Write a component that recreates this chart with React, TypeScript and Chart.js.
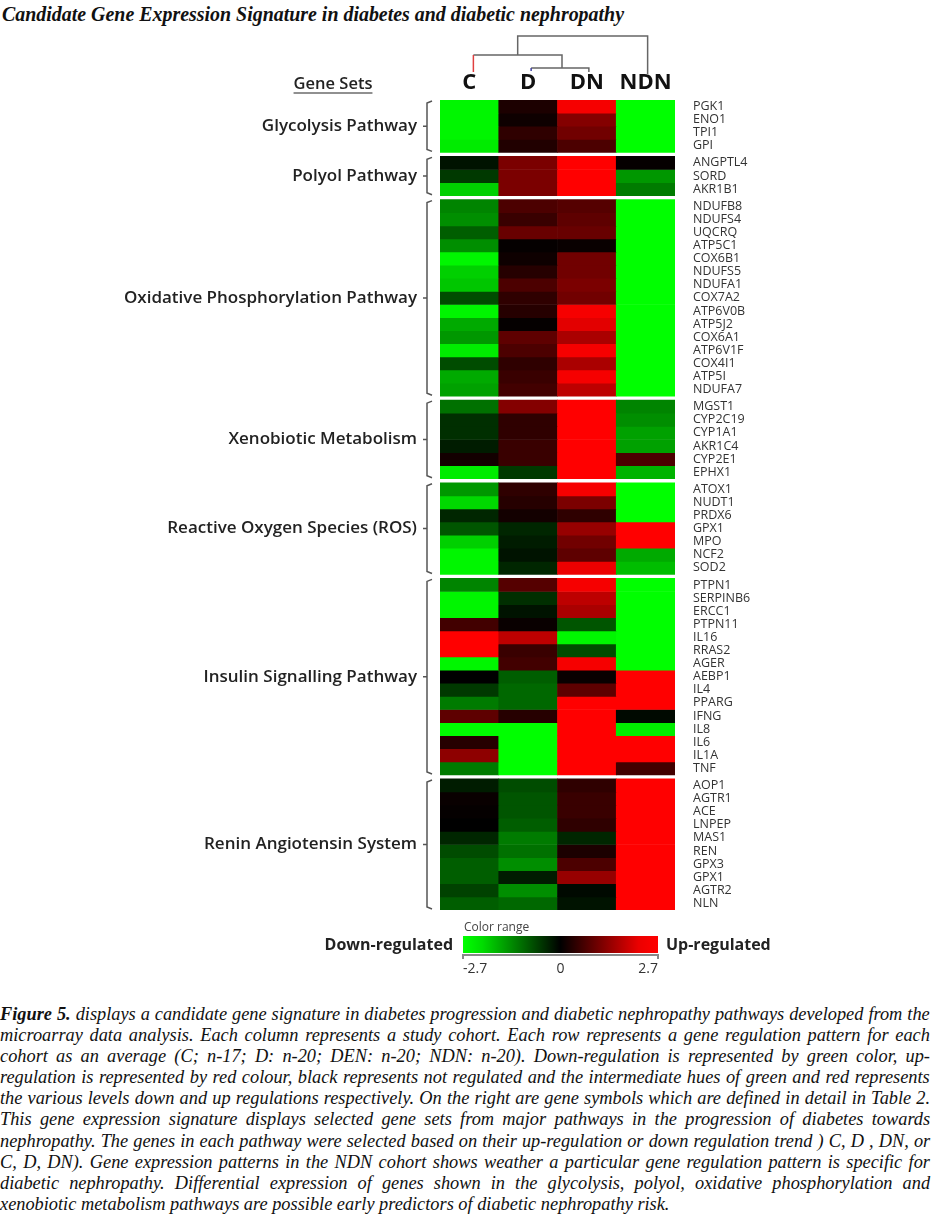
import React, { useEffect, useLayoutEffect, useRef } from "react";
import { Chart, registerables } from "chart.js";

Chart.register(...registerables);

// ---------- DATA ----------
const cohorts = ["C", "D", "DN", "NDN"];

const groupLabels = [
  "Glycolysis Pathway",
  "Polyol Pathway",
  "Oxidative Phosphorylation Pathway",
  "Xenobiotic Metabolism",
  "Reactive Oxygen Species (ROS)",
  "Insulin Signalling Pathway",
  "Renin Angiotensin System",
];

const glycolysisGenes = ["PGK1", "ENO1", "TPI1", "GPI"];
const polyolGenes = ["ANGPTL4", "SORD", "AKR1B1"];
const oxphosGenes = [
  "NDUFB8", "NDUFS4", "UQCRQ", "ATP5C1", "COX6B1", "NDUFS5", "NDUFA1", "COX7A2",
  "ATP6V0B", "ATP5J2", "COX6A1", "ATP6V1F", "COX4I1", "ATP5I", "NDUFA7",
];
const xenobioticGenes = ["MGST1", "CYP2C19", "CYP1A1", "AKR1C4", "CYP2E1", "EPHX1"];
const rosGenes = ["ATOX1", "NUDT1", "PRDX6", "GPX1", "MPO", "NCF2", "SOD2"];
const insulinGenes = [
  "PTPN1", "SERPINB6", "ERCC1", "PTPN11", "IL16", "RRAS2", "AGER", "AEBP1",
  "IL4", "PPARG", "IFNG", "IL8", "IL6", "IL1A", "TNF",
];
const reninGenes = ["AOP1", "AGTR1", "ACE", "LNPEP", "MAS1", "REN", "GPX3", "GPX1", "AGTR2", "NLN"];

const geneGroups = [glycolysisGenes, polyolGenes, oxphosGenes, xenobioticGenes, rosGenes, insulinGenes, reninGenes];

// expression values (log ratio), in gene order
const valuesC = [
  -2.6, -2.6, -2.6, -2.5,
  -0.2, -0.6, -2.2,
  -1.4, -1.5, -1.0, -1.5, -2.6, -2.2, -2.1, -0.8, -2.6, -1.8, -1.6, -2.5, -0.8, -1.8, -1.7,
  -1.2, -0.5, -0.5, -0.3, 0.2, -2.5,
  -1.6, -2.3, -0.4, -0.9, -2.2, -2.6, -2.6,
  -1.4, -2.6, -2.6, 0.7, 2.7, 2.7, -2.6, 0.0, -0.6, -1.3, 1.0, -2.7, 0.4, 1.5, -1.3,
  -0.3, 0.1, 0.05, 0.0, -0.4, -0.8, -1.0, -1.0, -0.7, -1.0,
];
const valuesD = [
  0.3, 0.15, 0.5, 0.35,
  1.3, 1.3, 1.3,
  0.8, 0.6, 1.1, 0.05, 0.15, 0.4, 0.8, 0.5, 0.4, 0.05, 1.0, 0.8, 0.5, 0.6, 0.7,
  1.4, 0.5, 0.5, 0.6, 0.6, -0.6,
  0.5, 0.4, 0.2, -0.4, -0.3, -0.2, -0.4,
  0.9, -0.5, -0.2, 0.1, 2.0, 0.6, 0.7, -1.0, -1.1, -1.1, 0.4, -2.7, -2.7, -2.7, -2.7,
  -0.8, -0.9, -0.9, -1.0, -1.3, -1.2, -1.5, -0.3, -1.5, -1.1,
];
const valuesDN = [
  2.6, 1.4, 1.2, 0.8,
  2.7, 2.7, 2.7,
  0.9, 1.0, 1.1, 0.1, 1.2, 1.2, 1.3, 1.2, 2.6, 2.4, 1.8, 2.6, 1.8, 2.6, 2.0,
  2.7, 2.7, 2.7, 2.7, 2.7, 2.7,
  2.6, 1.3, 0.5, 1.6, 1.2, 1.0, 2.5,
  2.6, 2.0, 1.8, -0.9, -2.6, -0.8, 2.6, 0.1, 1.0, 2.7, 2.7, 2.7, 2.7, 2.7, 2.7,
  0.5, 0.6, 0.6, 0.5, -0.4, 0.3, 0.8, 1.6, -0.1, -0.2,
];
const valuesNDN = [
  -2.7, -2.7, -2.7, -2.7,
  0.05, -1.6, -1.3,
  -2.7, -2.7, -2.7, -2.7, -2.7, -2.7, -2.7, -2.7, -2.7, -2.7, -2.7, -2.7, -2.7, -2.7, -2.7,
  -1.4, -1.5, -1.7, -1.7, 0.8, -1.9,
  -2.7, -2.7, -2.7, 2.7, 2.7, -1.8, -2.0,
  -2.7, -2.7, -2.7, -2.7, -2.7, -2.7, -2.7, 2.7, 2.7, 2.7, -0.1, -2.5, 2.7, 2.7, 0.7,
  2.7, 2.7, 2.7, 2.7, 2.7, 2.7, 2.7, 2.7, 2.7, 2.7,
];
const cohortValues = [valuesC, valuesD, valuesDN, valuesNDN];

const colorRangeMin = -2.7;
const colorRangeMax = 2.7;
const colorRangeTicks = [-2.7, 0, 2.7];

const titleText = "Candidate Gene Expression Signature in diabetes and diabetic nephropathy";
const captionLead = "Figure 5.";
const captionLines = [
  "displays a candidate gene signature in diabetes progression and diabetic nephropathy pathways developed from the",
  "microarray data analysis. Each column represents a study cohort. Each row represents a gene regulation pattern for each",
  "cohort as an average (C; n-17; D: n-20; DEN: n-20; NDN: n-20). Down-regulation is represented by green color, up-",
  "regulation is represented by red colour, black represents not regulated and the intermediate hues of green and red represents",
  "the various levels down and up regulations respectively. On the right are gene symbols which are defined in detail in Table 2.",
  "This gene expression signature displays selected gene sets from major pathways in the progression of diabetes towards",
  "nephropathy. The genes in each pathway were selected based on their up-regulation or down regulation trend ) C, D , DN, or",
  "C, D, DN). Gene expression patterns in the NDN cohort shows weather a particular gene regulation pattern is specific for",
  "diabetic nephropathy. Differential expression of genes shown in the glycolysis, polyol, oxidative phosphorylation and",
  "xenobiotic metabolism pathways are possible early predictors of diabetic nephropathy risk.",
];

// ---------- HELPERS ----------
const GROUP_GAP = 0.3;

function heatColor(v: number): string {
  const t = Math.max(-1, Math.min(1, v / colorRangeMax));
  if (t < 0) return `rgb(0, ${Math.round(-t * 255)}, 0)`;
  return `rgb(${Math.round(t * 255)}, 0, 0)`;
}

type Row = { name: string; start: number; index: number };
type GroupSpan = { label: string; start: number; end: number };

function buildLayout() {
  const rows: Row[] = [];
  const spans: GroupSpan[] = [];
  let pos = 0;
  let idx = 0;
  geneGroups.forEach((genes, g) => {
    const gStart = pos;
    genes.forEach((name) => {
      rows.push({ name, start: pos, index: idx });
      pos += 1;
      idx += 1;
    });
    spans.push({ label: groupLabels[g], start: gStart, end: pos });
    if (g < geneGroups.length - 1) pos += GROUP_GAP;
  });
  return { rows, spans, total: pos };
}

const decorPlugin = {
  id: "decor",
  afterDraw(chart: any, _args: any, opts: any) {
    const { ctx, chartArea, scales } = chart;
    const x = scales.x;
    const y = scales.y;
    const spans: GroupSpan[] = opts.spans;
    ctx.save();

    // group brackets and labels
    const bx = chartArea.left - 13;
    ctx.strokeStyle = "#555";
    ctx.lineWidth = 1.5;
    spans.forEach((s) => {
      const y0 = y.getPixelForValue(s.start) + 1;
      const y1 = y.getPixelForValue(s.end) - 1;
      const ym = (y0 + y1) / 2;
      ctx.beginPath();
      ctx.moveTo(bx + 5, y0);
      ctx.lineTo(bx, y0 + 2);
      ctx.lineTo(bx, y1 - 2);
      ctx.lineTo(bx + 5, y1);
      ctx.moveTo(bx, ym);
      ctx.lineTo(bx - 4, ym);
      ctx.stroke();
      ctx.fillStyle = "#222";
      ctx.font = '600 17px "Open Sans"';
      ctx.textAlign = "right";
      ctx.textBaseline = "middle";
      ctx.fillText(s.label, bx - 10, ym);
    });

    // "Gene Sets" header
    ctx.font = '600 16.5px "Open Sans"';
    ctx.fillStyle = "#222";
    ctx.textAlign = "center";
    ctx.textBaseline = "alphabetic";
    const gsx = chartArea.left - 107;
    const gsy = chartArea.top - 11;
    ctx.fillText("Gene Sets", gsx, gsy);
    const gw = ctx.measureText("Gene Sets").width;
    ctx.beginPath();
    ctx.lineWidth = 1.2;
    ctx.strokeStyle = "#222";
    ctx.moveTo(gsx - gw / 2, gsy + 4);
    ctx.lineTo(gsx + gw / 2, gsy + 4);
    ctx.stroke();

    // dendrogram
    const xc = x.getPixelForValue(0) + 4;
    const xd = x.getPixelForValue(1) + 3;
    const xdn = x.getPixelForValue(2) + 2;
    const xndn = x.getPixelForValue(3) + 2;
    const top = chartArea.top;
    const yTop = top - 64;
    const yMid = top - 45;
    const yLow = top - 32;
    const yLeaf = top - 28;
    const xDDN = (xd + xdn) / 2 + 2;
    const xCDDN = (xc + xDDN) / 2;
    ctx.lineWidth = 1.5;
    ctx.strokeStyle = "#666";
    ctx.beginPath();
    ctx.moveTo(xCDDN, yMid);
    ctx.lineTo(xCDDN, yTop);
    ctx.lineTo(xndn, yTop);
    ctx.lineTo(xndn, yLeaf + 2);
    ctx.moveTo(xc, yMid);
    ctx.lineTo(xDDN, yMid);
    ctx.lineTo(xDDN, yLow);
    ctx.moveTo(xd, yLow);
    ctx.lineTo(xdn, yLow);
    ctx.lineTo(xdn, yLeaf);
    ctx.stroke();
    ctx.strokeStyle = "#e04040";
    ctx.beginPath();
    ctx.moveTo(xc, yMid);
    ctx.lineTo(xc, yLeaf);
    ctx.stroke();
    ctx.strokeStyle = "#4040a0";
    ctx.beginPath();
    ctx.moveTo(xd, yLow);
    ctx.lineTo(xd, yLow + 3);
    ctx.stroke();

    // colour range legend
    const lx0 = chartArea.left + 23;
    const lx1 = chartArea.right - 17;
    const ly0 = chartArea.bottom + 26;
    const ly1 = chartArea.bottom + 43;
    const grad = ctx.createLinearGradient(lx0, 0, lx1, 0);
    grad.addColorStop(0, heatColor(colorRangeMin));
    grad.addColorStop(0.1, "rgb(0,220,0)");
    grad.addColorStop(0.5, "rgb(0,0,0)");
    grad.addColorStop(0.9, "rgb(235,0,0)");
    grad.addColorStop(1, heatColor(colorRangeMax));
    ctx.fillStyle = grad;
    ctx.fillRect(lx0, ly0, lx1 - lx0, ly1 - ly0);
    ctx.strokeStyle = "#888";
    ctx.lineWidth = 2;
    ctx.beginPath();
    ctx.moveTo(lx0, ly1 + 2);
    ctx.lineTo(lx1, ly1 + 2);
    ctx.moveTo(lx0, ly1 + 1);
    ctx.lineTo(lx0, ly1 + 6);
    ctx.moveTo(lx1, ly1 + 1);
    ctx.lineTo(lx1, ly1 + 6);
    ctx.stroke();

    ctx.fillStyle = "#444";
    ctx.font = '12px "Open Sans"';
    ctx.textAlign = "left";
    ctx.textBaseline = "alphabetic";
    ctx.fillText("Color range", lx0 + 1, ly0 - 5);

    ctx.font = '14px "Open Sans"';
    ctx.fillStyle = "#333";
    colorRangeTicks.forEach((t, i) => {
      const px = lx0 + ((t - colorRangeMin) / (colorRangeMax - colorRangeMin)) * (lx1 - lx0);
      ctx.textAlign = i === 0 ? "left" : i === colorRangeTicks.length - 1 ? "right" : "center";
      ctx.fillText(String(t), px, ly1 + 20);
    });

    ctx.font = 'bold 16px "Open Sans"';
    ctx.fillStyle = "#222";
    ctx.textBaseline = "middle";
    ctx.textAlign = "right";
    ctx.fillText("Down-regulated", lx0 - 10, (ly0 + ly1) / 2 + 1);
    ctx.textAlign = "left";
    ctx.fillText("Up-regulated", lx1 + 8, (ly0 + ly1) / 2 + 1);

    ctx.restore();
  },
};

function HeatmapChart() {
  const canvasRef = useRef<HTMLCanvasElement | null>(null);

  useEffect(() => {
    const canvas = canvasRef.current;
    if (!canvas) return;
    const { rows, spans, total } = buildLayout();
    const centers = rows.map((r) => r.start + 0.5);

    const datasets = rows.map((r) => ({
      label: r.name,
      data: cohorts.map(() => [r.start, r.start + 1] as [number, number]),
      backgroundColor: cohortValues.map((vals) => heatColor(vals[r.index])),
      borderWidth: 0,
      grouped: false,
      categoryPercentage: 1,
      barPercentage: 1,
    }));

    const chart = new Chart(canvas, {
      type: "bar",
      data: { labels: cohorts, datasets: datasets as any },
      plugins: [decorPlugin as any],
      options: {
        animation: false,
        responsive: false,
        maintainAspectRatio: false,
        layout: { padding: { left: 440, right: 0, top: 74, bottom: 75 } },
        plugins: {
          legend: { display: false },
          tooltip: { enabled: false },
          title: { display: false },
          decor: { spans },
        } as any,
        scales: {
          x: {
            type: "category",
            position: "top",
            grid: { display: false, drawTicks: false },
            border: { display: false },
            ticks: {
              color: "#111",
              padding: 4,
              font: { family: "Open Sans", size: 22, weight: "bold" },
            },
            afterFit: (s: any) => {
              s.height = 26;
            },
          },
          y: {
            type: "linear",
            position: "right",
            reverse: true,
            min: 0,
            max: total,
            grid: { display: false, drawTicks: false },
            border: { display: false },
            afterFit: (s: any) => {
              s.width = 260;
            },
            afterBuildTicks: (s: any) => {
              s.ticks = centers.map((v) => ({ value: v }));
            },
            ticks: {
              autoSkip: false,
              padding: 18,
              color: "#333",
              font: { family: "Open Sans", size: 12.5 },
              callback: (_v: any, i: number) => rows[i]?.name ?? "",
            },
          },
        } as any,
      },
    });
    return () => chart.destroy();
  }, []);

  return (
    <canvas
      ref={canvasRef}
      width={935}
      height={985}
      style={{ position: "absolute", left: 0, top: 0, width: 935, height: 985 }}
    />
  );
}

function FitText({ children, width, style }: { children: any; width: number; style: any }) {
  const ref = useRef<HTMLSpanElement | null>(null);
  useLayoutEffect(() => {
    const el = ref.current;
    if (!el) return;
    const fit = () => {
      el.style.transform = "none";
      const w = el.getBoundingClientRect().width;
      if (w > 0) el.style.transform = `scaleX(${width / w})`;
    };
    fit();
    (document as any).fonts?.ready?.then(fit);
  }, [width]);
  return (
    <span ref={ref} style={{ display: "inline-block", whiteSpace: "nowrap", transformOrigin: "left top", ...style }}>
      {children}
    </span>
  );
}

const CAPTION_SCALE = 0.94;
const CAPTION_WIDTH = 930;

function CaptionLine({ text, lead, justify }: { text: string; lead?: string; justify: boolean }) {
  const ref = useRef<HTMLSpanElement | null>(null);
  useLayoutEffect(() => {
    const el = ref.current;
    if (!el || !justify) return;
    const fit = () => {
      el.style.wordSpacing = "0px";
      const w = el.offsetWidth;
      const full = (lead ? lead + " " : "") + text;
      const spaces = (full.match(/ /g) || []).length;
      const target = CAPTION_WIDTH / CAPTION_SCALE;
      if (spaces > 0) el.style.wordSpacing = `${(target - w) / spaces}px`;
    };
    fit();
    (document as any).fonts?.ready?.then(fit);
  }, [text, lead, justify]);
  return (
    <div style={{ whiteSpace: "nowrap" }}>
      <span ref={ref} style={{ display: "inline-block", whiteSpace: "pre" }}>
        {lead ? <b>{lead} </b> : null}
        {text}
      </span>
    </div>
  );
}

export default function App() {
  useEffect(() => {
    document.body.style.margin = "0";
    document.body.style.background = "#fff";
  }, []);
  const serif = '"Liberation Serif", "Times New Roman", serif';
  return (
    <div style={{ position: "relative", width: 935, height: 1215, background: "#fff", overflow: "hidden" }}>
      <div style={{ position: "absolute", left: 2, top: 1 }}>
        <FitText width={622} style={{ fontFamily: serif, fontStyle: "italic", fontWeight: "bold", fontSize: 20, lineHeight: "26px", color: "#111" }}>
          {titleText}
        </FitText>
      </div>
      <HeatmapChart />
      <div
        style={{
          position: "absolute",
          left: 0,
          top: 1003,
          width: CAPTION_WIDTH / CAPTION_SCALE,
          transform: `scaleX(${CAPTION_SCALE})`,
          transformOrigin: "left top",
          fontFamily: serif,
          fontStyle: "italic",
          fontSize: 19.5,
          lineHeight: "21.1px",
          color: "#111",
        }}
      >
        {captionLines.map((line, i) => (
          <CaptionLine
            key={i}
            text={line}
            lead={i === 0 ? captionLead : undefined}
            justify={i < captionLines.length - 1}
          />
        ))}
      </div>
    </div>
  );
}
